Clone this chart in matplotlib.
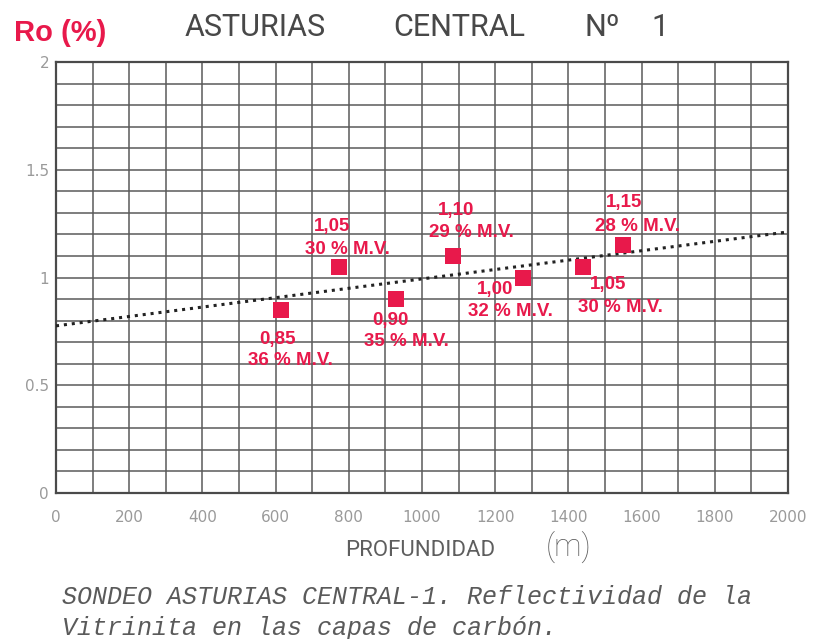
import numpy as np
import matplotlib
matplotlib.use("Agg")
import matplotlib.pyplot as plt

# Vitrinite reflectance data, borehole Asturias Central-1
depth_m = [615, 773, 929, 1085, 1276, 1440, 1549]
ro_pct = [0.85, 1.05, 0.90, 1.10, 1.00, 1.05, 1.15]
volatile_pct = [36, 30, 35, 29, 32, 30, 28]

x_ticks = [0, 200, 400, 600, 800, 1000, 1200, 1400, 1600, 1800, 2000]
y_ticks = [0, 0.5, 1, 1.5, 2]
y_tick_labels = ["0", "0.5", "1", "1.5", "2"]

title_words = ["ASTURIAS", "CENTRAL", "Nº", "1"]

RED = "#e8194b"
GRID = "#5a5a5a"
TICK = "#9a9a9a"

# label offsets (pixels, +y downward) for value line and volatile-matter line
val_off = [(-4, 30), (-7, -40), (-6, 21), (3, -45), (-28, 12), (25, 18), (1, -43)]
mv_off = [(9, 51), (9, -17), (10, 42), (18, -23), (-13, 34), (37, 41), (15, -19)]
# centre (pixels) of each title word
title_x = [255, 459, 602, 660]

W, H = 822, 639
fig = plt.figure(figsize=(W / 100, H / 100), dpi=100)
left, right, top, bottom = 56, 788, 62, 493
ax = fig.add_axes([left / W, 1 - bottom / H, (right - left) / W, (bottom - top) / H])

ax.set_xlim(0, 2000)
ax.set_ylim(0, 2)

# fine grid: every 100 m and every 0.1 %
for xv in np.arange(100, 2000, 100):
    ax.axvline(xv, color=GRID, lw=1.1, zorder=1)
for yv in np.arange(0.1, 2.0, 0.1):
    ax.axhline(yv, color=GRID, lw=1.1, zorder=1)
for s in ax.spines.values():
    s.set_color("#4a4a4a")
    s.set_linewidth(1.6)

ax.set_xticks(x_ticks)
ax.set_xticklabels([str(v) for v in x_ticks])
ax.set_yticks(y_ticks)
ax.set_yticklabels(y_tick_labels)
ax.tick_params(length=0, colors=TICK, labelsize=11)
ax.tick_params(axis="x", pad=12)
ax.tick_params(axis="y", pad=5)

# least-squares trend of reflectance with depth
slope, intercept = np.polyfit(depth_m, ro_pct, 1)
xs = np.array([0, 2000])
ax.plot(xs, intercept + slope * xs, color="#222222", lw=2.2,
        linestyle=(0, (1, 1.6)), zorder=3)

ax.plot(depth_m, ro_pct, "s", color=RED, markersize=11.5, zorder=4,
        markeredgewidth=0)

for x, v, mv, vo, mo in zip(depth_m, ro_pct, volatile_pct, val_off, mv_off):
    ax.annotate(f"{v:.2f}".replace(".", ","), (x, v),
                xytext=(vo[0] * 0.72, -vo[1] * 0.72), textcoords="offset points",
                ha="center", va="center", color=RED, fontsize=13.5,
                fontweight="bold", family="Liberation Sans", zorder=5)
    ax.annotate(f"{mv} % M.V.", (x, v),
                xytext=(mo[0] * 0.72, -mo[1] * 0.72), textcoords="offset points",
                ha="center", va="center", color=RED, fontsize=13.5,
                fontweight="bold", family="Liberation Sans", zorder=5)

# headings
fig.text(14 / W, 1 - 33 / H, "Ro (%)", color=RED, fontsize=21,
         fontweight="bold", family="Liberation Sans", ha="left", va="center")
for word, xp in zip(title_words, title_x):
    fig.text(xp / W, 1 - 27 / H, word, color="#484848", fontsize=22,
             family="Roboto", ha="center", va="center")

# x-axis title
fig.text(420 / W, 1 - 551 / H, "PROFUNDIDAD", color="#5e5e5e", fontsize=16,
         family="Roboto", ha="center", va="center")
fig.text(569 / W, 1 - 547 / H, "(m)", color="#5e5e5e", fontsize=22,
         family="Roboto", fontweight="light", ha="center", va="center")

# caption
fig.text(62 / W, 1 - 597 / H, "SONDEO ASTURIAS CENTRAL-1. Reflectividad de la",
         color="#5a5a5a", fontsize=18, family="Liberation Mono", style="italic",
         ha="left", va="center")
fig.text(62 / W, 1 - 628 / H, "Vitrinita en las capas de carbón.",
         color="#5a5a5a", fontsize=18, family="Liberation Mono", style="italic",
         ha="left", va="center")

fig.savefig("out.png", dpi=100)
